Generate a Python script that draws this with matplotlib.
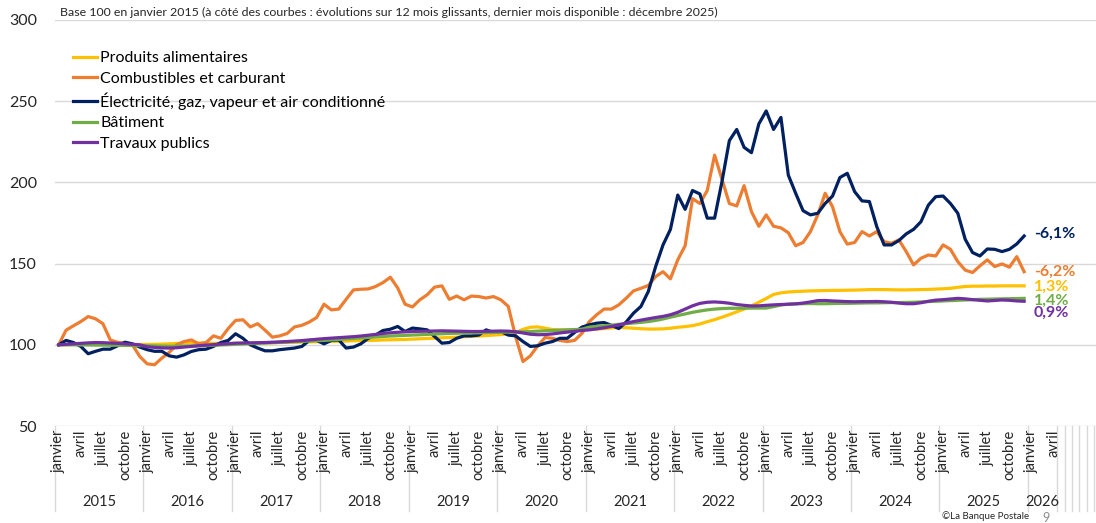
import matplotlib
matplotlib.use("Agg")
import matplotlib.pyplot as plt

plt.rcParams['font.family'] = ['Lato', 'DejaVu Sans']

# monthly index values, janvier 2015 -> decembre 2025 (base 100)
alimentaires = [
    100, 100.1, 100.2, 100.2, 100.3, 100.3, 100.4, 100.4, 100.3, 100.3, 100.2, 100.2,
    100.2, 100.3, 100.4, 100.6, 100.8, 101, 101.1, 101.1, 101, 100.9, 100.8, 100.8,
    100.9, 101, 101.1, 101.2, 101.2, 101.3, 101.4, 101.5, 101.6, 101.7, 101.8, 101.9,
    102, 102.1, 102.2, 102.3, 102.5, 102.6, 102.7, 102.8, 103, 103.1, 103.2, 103.3,
    103.5, 103.7, 103.9, 104.1, 104.3, 104.5, 104.7, 105, 105.2, 105.4, 105.7, 106,
    106.3, 106.6, 107.5, 109.5, 110.8, 111, 110.2, 109.4, 109.2, 109.2, 109.3, 109.4,
    109.5, 109.7, 110, 110.4, 110.7, 110.5, 110.2, 109.9, 109.7, 109.7, 109.8, 110.2,
    110.8, 111.2, 111.8, 112.8, 114.2, 115.5, 117, 118.6, 120.3, 122, 124, 126.2,
    128.5, 131, 132, 132.5, 132.8, 133, 133.2, 133.3, 133.4, 133.5, 133.5, 133.6,
    133.7, 133.8, 134, 134, 134, 133.9, 133.8, 133.8, 133.9, 134, 134.1, 134.3,
    134.5, 134.8, 135.4, 135.9, 136.1, 136.1, 136.2, 136.2, 136.3, 136.3, 136.3, 136.3,
]
combustibles = [
    100, 109, 111.7, 114.3, 117.4, 116, 113, 103, 101.5, 101, 100, 92.8,
    88.3, 87.7, 91.8, 95.3, 100, 102, 103, 100.6, 101.4, 105.5, 104, 110,
    115, 115.4, 111, 113, 109, 104.7, 105.5, 107, 111, 112, 114, 116.8,
    125, 121.5, 122, 128, 133.8, 134.2, 134.4, 135.9, 138.3, 141.6, 135, 125,
    123.3, 127.7, 130.8, 135.5, 136.3, 128, 130, 127.7, 130, 129.7, 128.8, 129.7,
    127.7, 123.7, 105, 89.7, 93.2, 99.4, 104.5, 104, 102.7, 102, 102.7, 107,
    114.3, 118.5, 122, 122, 124.6, 128.7, 133.2, 134.8, 136.5, 142, 145, 140.6,
    152.3, 161, 190, 187, 195, 216.8, 202, 187, 185.5, 198, 182, 173,
    180, 173, 172, 169, 161, 163, 169.7, 180, 193.3, 185, 169.7, 162,
    163, 169.7, 167, 169.7, 163.5, 162.5, 164.6, 157.4, 149.2, 153.3, 155.3, 154.7,
    161.5, 158.8, 151.2, 146, 144.5, 148.6, 152.3, 148.2, 149.8, 147.8, 154.3, 145,
]
electricite = [
    100, 102.7, 101.4, 99, 94.5, 96, 97.3, 97.3, 99.4, 101.6, 100.6, 98.6,
    97, 96, 96, 93.2, 92.4, 93.8, 95.9, 97, 97.3, 99, 101.4, 102.7,
    106.8, 104, 100, 98, 96.3, 96.3, 97, 97.5, 98, 99, 102.7, 102.7,
    100.6, 102.7, 103, 98, 98.6, 100.6, 104, 106, 108.8, 109.6, 111.3, 108.2,
    110.3, 109.8, 109.2, 105.1, 101, 101.4, 104, 105.5, 105.5, 106, 109.2, 107.6,
    108.2, 106, 105.5, 102, 99, 99.4, 101, 102, 104, 104, 107.6, 110.9,
    112.3, 113.3, 113.7, 112, 110, 114, 119.5, 123.6, 132.8, 148.2, 161.5, 171,
    192.2, 183.4, 195, 192.9, 178, 178, 200.5, 225.7, 232.6, 221.6, 218.3, 236,
    244, 232.6, 240, 204.5, 193.3, 182.6, 180, 181, 187, 191.6, 203, 205.6,
    194.3, 188.6, 188.2, 172.8, 161.5, 161.5, 164.2, 168.3, 171.1, 175.8, 186, 191.2,
    191.6, 187, 181, 165, 156.8, 154.7, 159, 158.8, 157.4, 158.8, 162.1, 167,
]
batiment = [
    100, 100, 100, 99.9, 99.9, 99.8, 99.8, 99.7, 99.7, 99.6, 99.6, 99.5,
    99.4, 99.3, 99.2, 99.1, 99.1, 99.2, 99.3, 99.4, 99.5, 99.7, 99.9, 100.1,
    100.3, 100.5, 100.7, 100.9, 101.1, 101.3, 101.5, 101.7, 101.9, 102.1, 102.3, 102.5,
    102.7, 103, 103.3, 103.6, 103.9, 104.2, 104.5, 104.8, 105.1, 105.4, 105.6, 105.8,
    106, 106.2, 106.4, 106.6, 106.8, 107, 107.1, 107.2, 107.3, 107.4, 107.5, 107.6,
    107.7, 107.8, 107.9, 108, 108.2, 108.4, 108.6, 108.8, 109, 109.2, 109.4, 109.6,
    110.9, 111.3, 111.7, 112.1, 112.6, 113, 113.4, 113.8, 114.3, 115, 115.9, 117,
    118, 119, 120, 120.8, 121.5, 122, 122.3, 122.5, 122.5, 122.5, 122.6, 122.6,
    122.6, 123.5, 124.5, 125, 125.2, 125.3, 125.4, 125.3, 125.3, 125.4, 125.5, 125.5,
    125.6, 125.7, 125.8, 125.8, 125.9, 126, 126, 126.1, 126.2, 126.4, 126.6, 126.8,
    127, 127.2, 127.4, 127.6, 127.8, 128, 128.1, 128.2, 128.3, 128.4, 128.5, 128.6,
]
travaux_publics = [
    100, 100.3, 100.6, 100.9, 101.2, 101.4, 101.3, 101.1, 100.9, 100.6, 100.3, 100,
    98.8, 98.4, 98.1, 98, 98.2, 98.6, 99, 99.4, 99.8, 100.1, 100.4, 100.7,
    101, 101.1, 101.2, 101.3, 101.4, 101.6, 101.8, 102, 102.3, 102.6, 103, 103.4,
    103.8, 104.1, 104.4, 104.7, 105, 105.4, 105.9, 106.4, 107, 107.4, 107.7, 108,
    108.2, 108.3, 108.4, 108.5, 108.6, 108.5, 108.4, 108.3, 108.2, 108.2, 108.3, 108.4,
    108.5, 108.4, 108, 107.3, 106.5, 106.2, 106.3, 106.7, 107.3, 107.8, 108.3, 108.8,
    109.2, 109.8, 110.5, 111.3, 112.3, 113.3, 114.3, 115.2, 116, 116.8, 117.5, 118.5,
    120, 122, 124, 125.5, 126.2, 126.4, 126.1, 125.6, 124.8, 124.3, 123.9, 124,
    124.3, 124.6, 124.8, 125, 125.2, 125.7, 126.4, 127.2, 127.3, 127, 126.8, 126.6,
    126.5, 126.6, 126.6, 126.7, 126.5, 126.2, 125.7, 125.3, 125.3, 125.9, 126.8, 127.5,
    127.8, 128.2, 128.6, 128.3, 127.8, 127.4, 127, 127.3, 127.6, 127.4, 127, 126.8,
]

series = [
    ("Produits alimentaires", alimentaires, "#FFC000"),
    ("Combustibles et carburant", combustibles, "#ED7D31"),
    ("Électricité, gaz, vapeur et air conditionné", electricite, "#002060"),
    ("Bâtiment", batiment, "#70AD47"),
    ("Travaux publics", travaux_publics, "#7030A0"),
]

# 12-month changes shown next to the curves (label, y position, colour)
end_labels = [
    ("-6,1%", 168.5, "#002060"),
    ("-6,2%", 145.0, "#ED7D31"),
    ("1,3%", 135.8, "#FFC000"),
    ("1,4%", 127.2, "#70AD47"),
    ("0,9%", 119.8, "#7030A0"),
]

years = [str(y) for y in range(2015, 2027)]
month_names = {0: "janvier", 3: "avril", 6: "juillet", 9: "octobre"}
n_labelled = 12 * 11 + 4  # janvier 2015 -> avril 2026

fig = plt.figure(figsize=(10.96, 5.23), dpi=100)
ax = fig.add_axes([55 / 1096, 97 / 523, 1041 / 1096, 406 / 523])

x = list(range(len(alimentaires)))
for name, vals, col in series:
    ax.plot(x, vals, color=col, lw=2.3, label=name, solid_joinstyle="round")

ax.set_xlim(-0.5, 140.75)
ax.set_ylim(50, 300)
ax.set_yticks(range(50, 301, 50))
ax.set_xticks([])
ax.grid(axis="y", color="#d9d9d9", lw=1)
ax.set_axisbelow(True)
for s in ax.spines.values():
    s.set_visible(False)
ax.tick_params(axis="y", length=0, pad=13, labelsize=11.5, labelcolor="#262626")

for lab, yv, col in end_labels:
    ax.text(132.3, yv, lab, color=col, fontsize=11.5, fontweight="bold",
            va="center", ha="left")

# category axis: months and year groups
tr = ax.get_xaxis_transform()
for i in range(n_labelled):
    m = i % 12
    if m in month_names:
        ax.text(i, -0.01, month_names[m], transform=tr, rotation=90,
                ha="center", va="top", fontsize=10.5, color="#262626")
for k, yr in enumerate(years):
    start = k * 12
    end = min(start + 11, n_labelled - 1)
    ax.text((start + end) / 2, -0.186, yr, transform=tr, ha="center",
            va="center", fontsize=10.5, color="#262626")
seps = [k * 12 - 0.5 for k in range(12)] + [135.5, 136.5, 137.5, 138.5, 139.5, 140.5]
for s in seps:
    ax.plot([s, s], [0, -0.21], transform=tr, color="#d9d9d9", lw=1, clip_on=False)

ax.legend(loc="upper left", bbox_to_anchor=(73 / 1096, 1 - 51 / 523),
          bbox_transform=fig.transFigure, frameon=False, fontsize=11.5,
          handlelength=1.5, handletextpad=0.2, labelspacing=0.4,
          borderpad=0, borderaxespad=0)

fig.text(60 / 1096, 1 - 12 / 523,
         "Base 100 en janvier 2015 (à côté des courbes : évolutions sur 12 mois glissants, "
         "dernier mois disponible : décembre 2025)",
         fontsize=8.9, va="center", ha="left", color="#262626")
fig.text(986 / 1096, 1 - 516 / 523, "©La Banque Postale", fontsize=7,
         ha="center", va="center", color="#262626")
fig.text(1046 / 1096, 1 - 518 / 523, "9", fontsize=9, ha="center",
         va="center", color="#8c8c8c")

fig.savefig("out.png", dpi=100)
